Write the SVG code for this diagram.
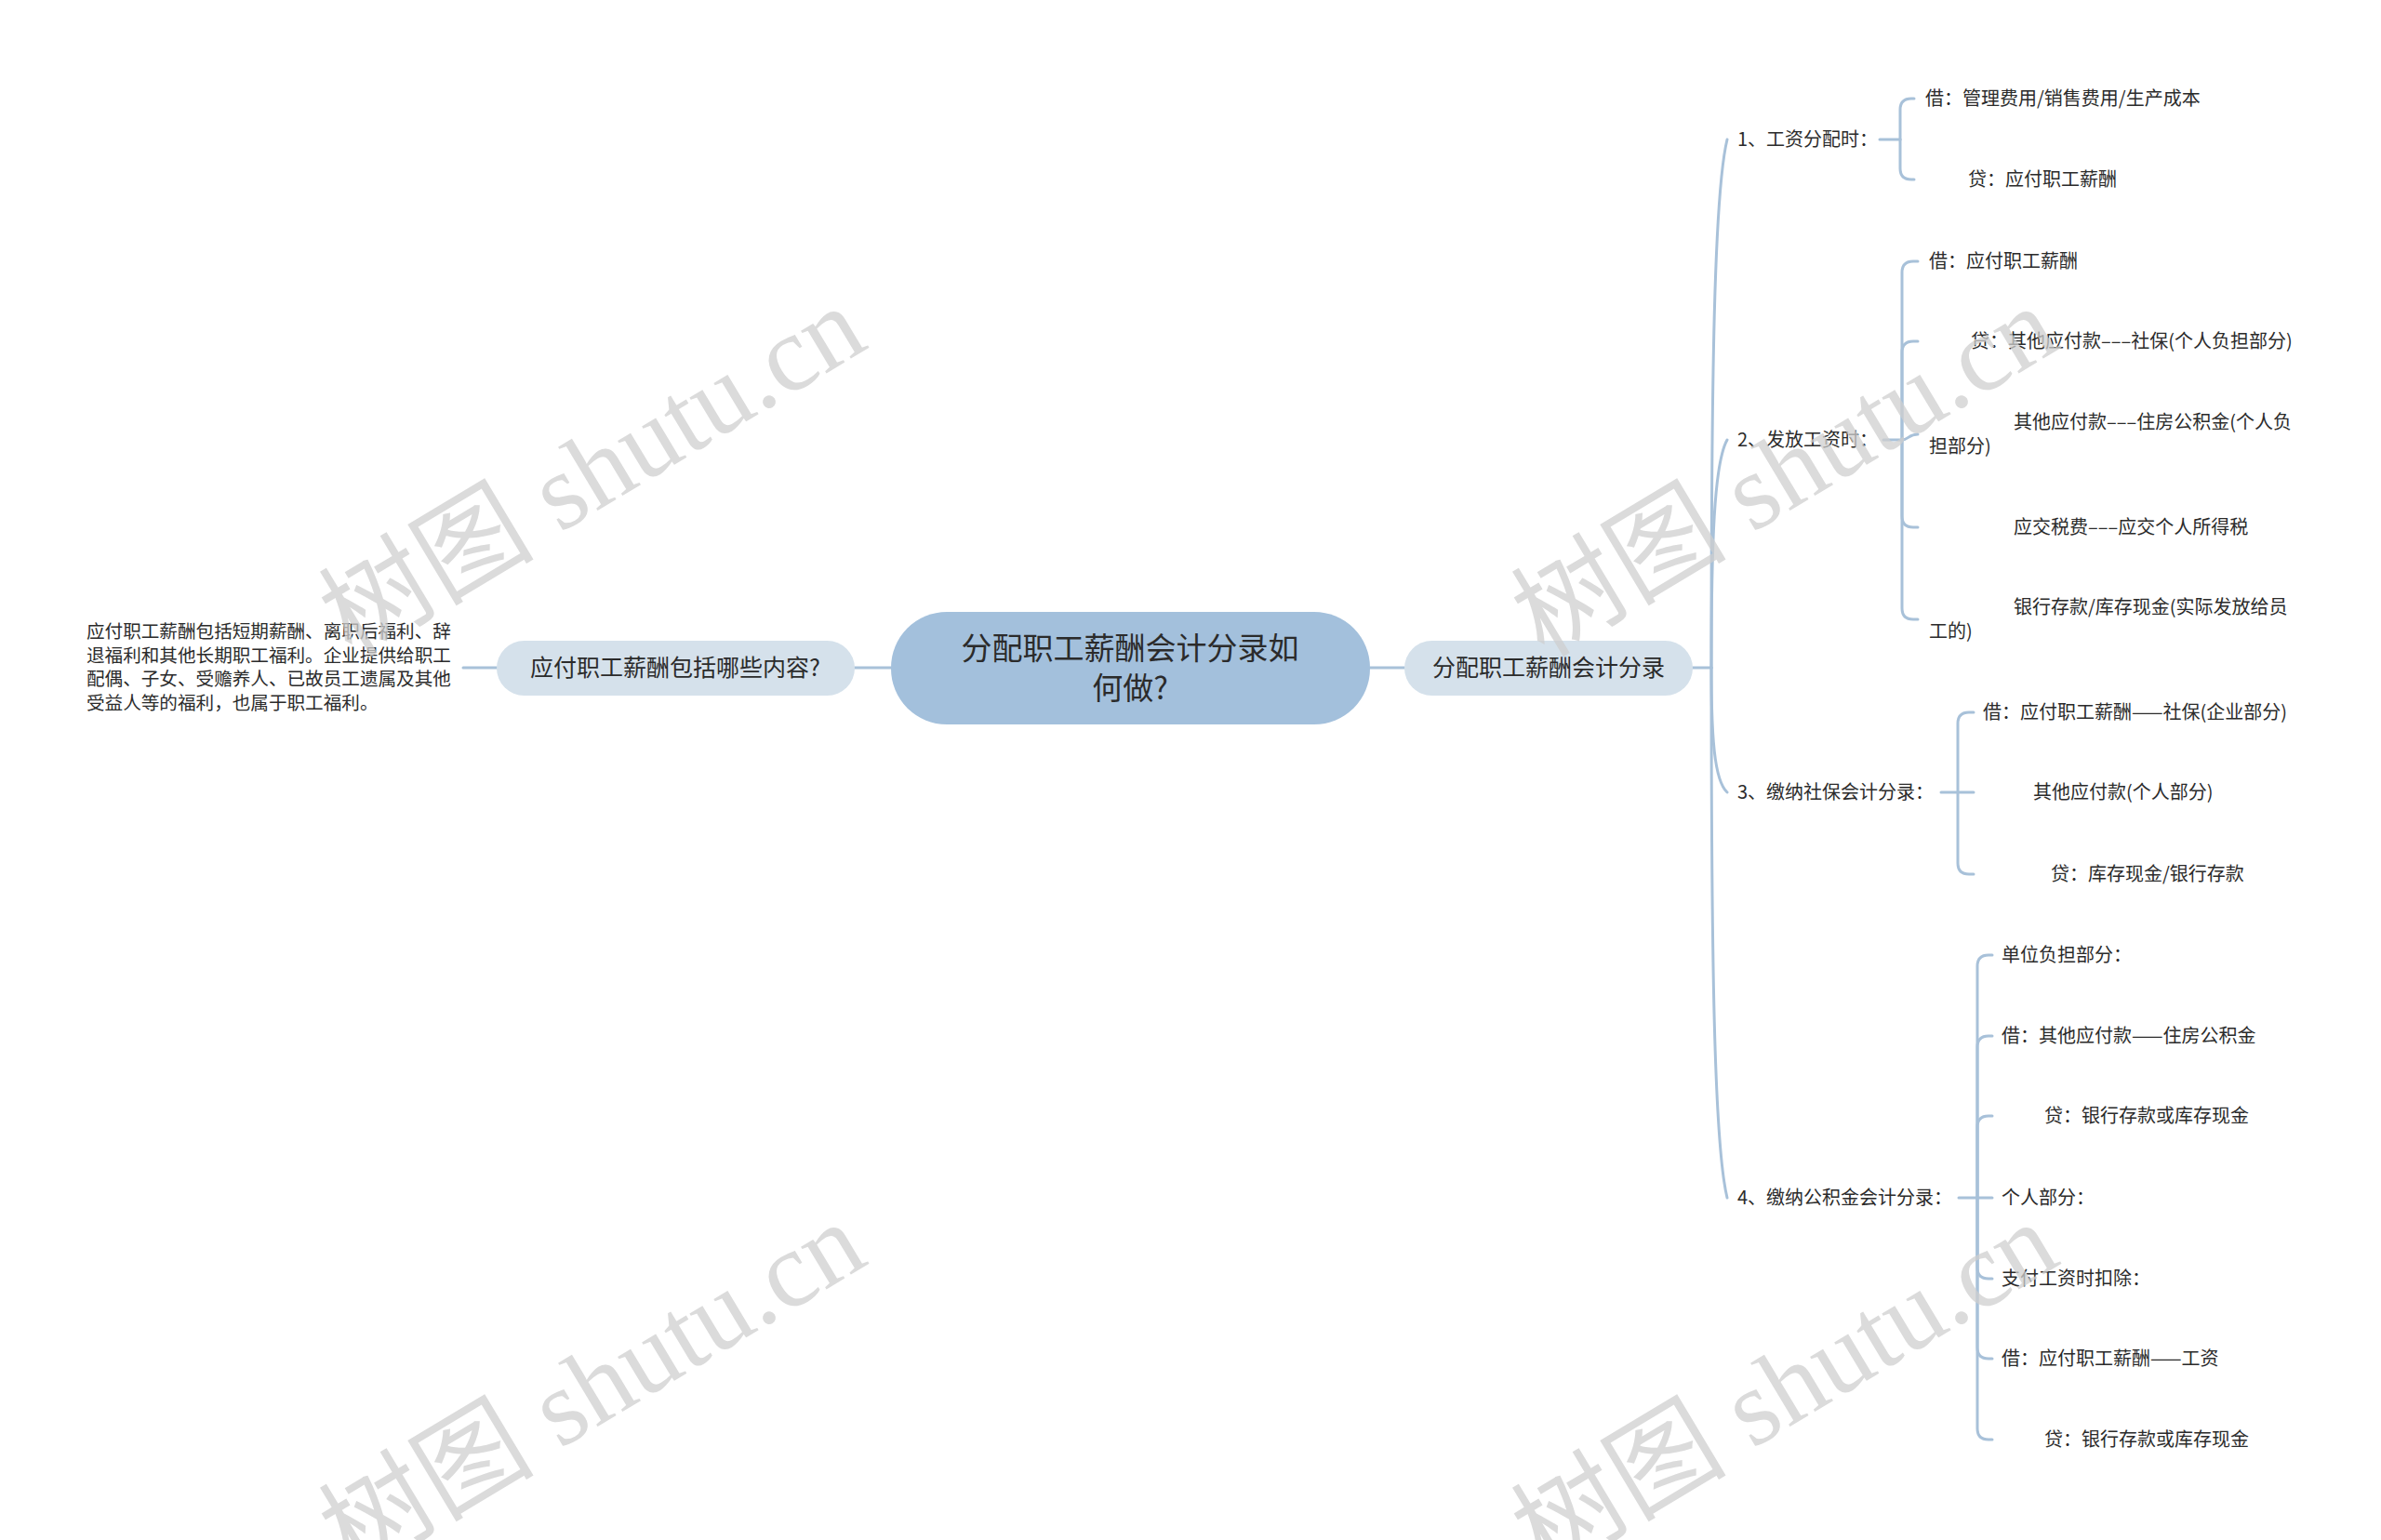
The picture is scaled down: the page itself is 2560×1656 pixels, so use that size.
<svg xmlns="http://www.w3.org/2000/svg" width="2560" height="1656" viewBox="0 0 2560 1656">
<style>
.ln{fill:none;stroke:#a8c1d9;stroke-width:3;stroke-linecap:round}
.t{font-family:"Noto Sans CJK SC","Liberation Sans",sans-serif;fill:#2b2b2b}
.s{font-size:20px}
.p{font-size:19.6px}
.m{font-size:25px;text-anchor:middle}
.c{font-size:33px;text-anchor:middle}
.wm{font-family:"Liberation Serif","Noto Sans CJK SC",serif;font-size:116px;fill:#cfcfcf;opacity:0.75}
</style>
<rect width="2560" height="1656" fill="#ffffff"/>
<g id="connectors">
<line class="ln" x1="498" y1="718" x2="534" y2="718"/>
<line class="ln" x1="919" y1="718" x2="958" y2="718"/>
<line class="ln" x1="1473" y1="718" x2="1510" y2="718"/>
<line class="ln" x1="1820" y1="718" x2="1840" y2="718"/>
<path class="ln" d="M1840 718 C1840 406 1843 207 1857 150"/>
<path class="ln" d="M1840 718 C1840 583 1843 498 1857 473"/>
<path class="ln" d="M1840 718 C1840 792 1843 839 1857 852"/>
<path class="ln" d="M1840 718 C1840 1031 1843 1231 1857 1288"/>
<line class="ln" x1="2021" y1="150" x2="2043" y2="150"/>
<path class="ln" d="M2043 150 L2043 118 Q2043 106 2055 106 L2058 106"/>
<path class="ln" d="M2043 150 L2043 181 Q2043 193 2055 193 L2058 193"/>
<line class="ln" x1="2025" y1="473" x2="2045" y2="473"/>
<path class="ln" d="M2045 473 L2045 293 Q2045 281 2057 281 L2062 281"/>
<path class="ln" d="M2045 473 L2045 379 Q2045 367 2057 367 L2062 367"/>
<path class="ln" d="M2045 473 C2052 473 2052 467 2062 467"/>
<path class="ln" d="M2045 473 L2045 555 Q2045 567 2057 567 L2062 567"/>
<path class="ln" d="M2045 473 L2045 654 Q2045 666 2057 666 L2062 666"/>
<line class="ln" x1="2087" y1="852" x2="2105" y2="852"/>
<path class="ln" d="M2105 852 L2105 778 Q2105 766 2117 766 L2122 766"/>
<path class="ln" d="M2105 852 L2122 852"/>
<path class="ln" d="M2105 852 L2105 928 Q2105 940 2117 940 L2122 940"/>
<line class="ln" x1="2106" y1="1288" x2="2126" y2="1288"/>
<path class="ln" d="M2126 1288 L2126 1039 Q2126 1027 2138 1027 L2142 1027"/>
<path class="ln" d="M2126 1288 L2126 1126 Q2126 1114 2138 1114 L2142 1114"/>
<path class="ln" d="M2126 1288 L2126 1212 Q2126 1200 2138 1200 L2142 1200"/>
<path class="ln" d="M2126 1288 L2142 1288"/>
<path class="ln" d="M2126 1288 L2126 1363 Q2126 1375 2138 1375 L2142 1375"/>
<path class="ln" d="M2126 1288 L2126 1449 Q2126 1461 2138 1461 L2142 1461"/>
<path class="ln" d="M2126 1288 L2126 1536 Q2126 1548 2138 1548 L2142 1548"/>
</g>
<g id="root">
<rect x="958" y="658" width="515" height="121" rx="60" fill="#a3c0dc"/>
<text class="t c" x="1215" y="709">分配职工薪酬会计分录如</text>
<text class="t c" x="1215" y="752">何做?</text>
</g>
<g id="left-topic">
<rect x="534" y="689" width="385" height="59" rx="29.5" fill="#d5e1eb"/>
<text class="t m" x="726" y="727">应付职工薪酬包括哪些内容?</text>
</g>
<g id="left-detail">
<text class="t p" x="93" y="686">应付职工薪酬包括短期薪酬、离职后福利、辞</text>
<text class="t p" x="93" y="712">退福利和其他长期职工福利。企业提供给职工</text>
<text class="t p" x="93" y="737">配偶、子女、受赡养人、已故员工遗属及其他</text>
<text class="t p" x="93" y="763">受益人等的福利，也属于职工福利。</text>
</g>
<g id="right-topic">
<rect x="1510" y="689" width="310" height="59" rx="29.5" fill="#d5e1eb"/>
<text class="t m" x="1665" y="727">分配职工薪酬会计分录</text>
</g>
<g id="step1">
<text class="t s" x="1868" y="157">1、工资分配时：</text>
<text class="t s" x="2070" y="113">借：管理费用/销售费用/生产成本</text>
<text class="t s" x="2116" y="200">贷：应付职工薪酬</text>
</g>
<g id="step2">
<text class="t s" x="1868" y="480">2、发放工资时：</text>
<text class="t s" x="2074" y="288">借：应付职工薪酬</text>
<text class="t s" x="2119" y="374">贷：其他应付款–––社保(个人负担部分)</text>
<text class="t s" x="2165" y="461">其他应付款–––住房公积金(个人负</text>
<text class="t s" x="2074" y="487">担部分)</text>
<text class="t s" x="2165" y="574">应交税费–––应交个人所得税</text>
<text class="t s" x="2165" y="660">银行存款/库存现金(实际发放给员</text>
<text class="t s" x="2074" y="686">工的)</text>
</g>
<g id="step3">
<text class="t s" x="1868" y="859">3、缴纳社保会计分录：</text>
<text class="t s" x="2132" y="773">借：应付职工薪酬——社保(企业部分)</text>
<text class="t s" x="2186" y="859">其他应付款(个人部分)</text>
<text class="t s" x="2205" y="947">贷：库存现金/银行存款</text>
</g>
<g id="step4">
<text class="t s" x="1868" y="1295">4、缴纳公积金会计分录：</text>
<text class="t s" x="2152" y="1034">单位负担部分：</text>
<text class="t s" x="2152" y="1121">借：其他应付款——住房公积金</text>
<text class="t s" x="2198" y="1207">贷：银行存款或库存现金</text>
<text class="t s" x="2152" y="1295">个人部分：</text>
<text class="t s" x="2152" y="1382">支付工资时扣除：</text>
<text class="t s" x="2152" y="1468">借：应付职工薪酬——工资</text>
<text class="t s" x="2198" y="1555">贷：银行存款或库存现金</text>
</g>
<g id="watermark">
<text class="wm" x="378" y="708" transform="rotate(-31 378 708)">树图 shutu.cn</text>
<text class="wm" x="378" y="1693" transform="rotate(-31 378 1693)">树图 shutu.cn</text>
<text class="wm" x="1660" y="708" transform="rotate(-31 1660 708)">树图 shutu.cn</text>
<text class="wm" x="1660" y="1693" transform="rotate(-31 1660 1693)">树图 shutu.cn</text>
</g>
</svg>
